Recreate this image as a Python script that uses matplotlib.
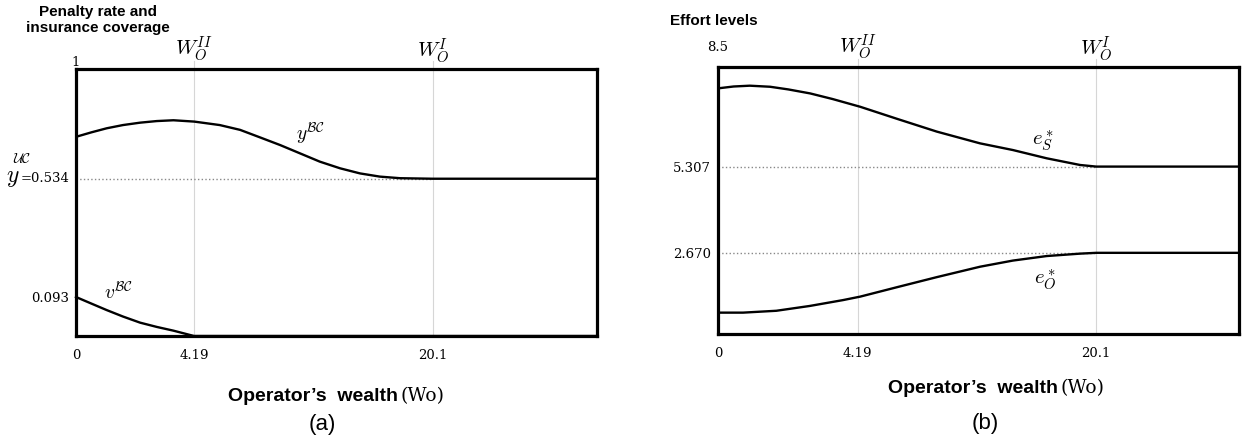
import matplotlib.pyplot as plt

# schematic axes: x runs 0..100 (the wealth axis is not to scale),
# y runs 0..1 of the box height; the printed values are only labels
X_TICKS_A = [0, 22.65, 68.5]
X_TICKS_B = [0, 26.8, 72.6]
X_LABELS = ['0', '4.19', '20.1']

# panel (a): insurance coverage y^BC and penalty rate v^BC
xa_y = [0, 3, 5.9, 9, 12.3, 15.5, 18.7, 22.7, 27.6, 31.5, 35.3, 39.2,
        43.0, 46.8, 50.7, 54.5, 58.3, 62.2, 68.5, 100]
y_bc = [0.746, 0.763, 0.778, 0.790, 0.799, 0.805, 0.808, 0.803, 0.790, 0.772,
        0.744, 0.715, 0.684, 0.653, 0.628, 0.609, 0.597, 0.591, 0.589, 0.589]
xa_v = [0, 3, 5.9, 9, 12.3, 15.5, 18.7, 22.65, 100]
v_bc = [0.146, 0.121, 0.097, 0.073, 0.050, 0.034, 0.020, 0.0, 0.0]
y_uc_level = 0.589

# panel (b): effort levels e_S* and e_O*
xb_s = [0, 3, 6.1, 10, 13.5, 17.7, 22, 27.3, 34.5, 42, 50.3, 56.6, 63.1, 69.5, 72.6, 100]
e_s = [0.920, 0.927, 0.930, 0.926, 0.916, 0.901, 0.880, 0.851, 0.805, 0.758,
       0.714, 0.689, 0.658, 0.633, 0.627, 0.627]
xb_o = [0, 4.8, 11.2, 17.6, 24, 27.3, 34.5, 42, 50.3, 56.6, 63.1, 69.5, 72.6, 100]
e_o = [0.080, 0.080, 0.087, 0.105, 0.127, 0.140, 0.176, 0.213, 0.252, 0.275,
       0.292, 0.301, 0.304, 0.304]
es_level = 0.627
eo_level = 0.304

plt.rcParams['mathtext.fontset'] = 'cm'
SERIF = 'DejaVu Serif'
SANS = 'Liberation Sans'
W, H = 1243, 448

fig = plt.figure(figsize=(W / 100, H / 100), dpi=100)
ax_a = fig.add_axes([76 / W, 1 - 336 / H, 521 / W, 267 / H])
ax_b = fig.add_axes([718 / W, 1 - 334 / H, 521 / W, 267 / H])


def base_axes(ax, xticks):
    ax.set_xlim(0, 100)
    ax.set_ylim(0, 1)
    for s in ax.spines.values():
        s.set_linewidth(2.3)
    ax.set_xticks(xticks)
    ax.set_xticklabels(X_LABELS, family=SERIF, fontsize=9.5)
    ax.tick_params(length=0)
    ax.tick_params(axis='x', pad=9)
    ax.tick_params(axis='y', pad=5)
    for xv in xticks[1:]:
        ax.axvline(xv, ymax=1.03, color='#d6d6d6', lw=0.8, clip_on=False, zorder=0)
    ax.annotate(r'$W_O^{II}$', (xticks[1], 1), xytext=(0, 14), textcoords='offset points',
                ha='center', va='center', fontsize=15, annotation_clip=False)
    ax.annotate(r'$W_O^{I}$', (xticks[2], 1), xytext=(0, 13), textcoords='offset points',
                ha='center', va='center', fontsize=15, annotation_clip=False)


# (a)
base_axes(ax_a, X_TICKS_A)
ax_a.plot([0, X_TICKS_A[2]], [y_uc_level] * 2, ls=':', color='#888888', lw=1)
ax_a.plot(xa_y, y_bc, color='black', lw=1.7)
ax_a.plot(xa_v, v_bc, color='black', lw=1.7, clip_on=False)
ax_a.set_yticks([v_bc[0]])
ax_a.set_yticklabels(['0.093'], family=SERIF, fontsize=9.5)
ax_a.text(45.1, 0.76, r'$y^{\mathcal{BC}}$', fontsize=14, ha='center', va='center')
ax_a.text(8.1, 0.165, r'$v^{\mathcal{BC}}$', fontsize=14, ha='center', va='center')
ax_a.annotate('1', (0, 1), xytext=(0, 5), textcoords='offset points', ha='center',
              va='center', family=SERIF, fontsize=9.5, annotation_clip=False)
fig.text(13 / W, 1 - 177 / H, r'$y$', fontsize=17, ha='center', va='center')
fig.text(22 / W, 1 - 159 / H, r'$\mathcal{UC}$', fontsize=10, ha='center', va='center')
fig.text(69 / W, 1 - 178 / H, '=0.534', family=SERIF, fontsize=9.5, ha='right', va='center')
fig.text(98 / W, 1 - 20 / H, 'Penalty rate and\ninsurance coverage', family=SANS,
         fontweight='bold', fontsize=11, ha='center', va='center', linespacing=1.2)

# (b)
base_axes(ax_b, X_TICKS_B)
ax_b.plot([0, X_TICKS_B[2]], [es_level] * 2, ls=':', color='#888888', lw=1)
ax_b.plot([0, X_TICKS_B[2]], [eo_level] * 2, ls=':', color='#888888', lw=1)
ax_b.plot(xb_s, e_s, color='black', lw=1.7)
ax_b.plot(xb_o, e_o, color='black', lw=1.7)
ax_b.set_yticks([eo_level, es_level])
ax_b.set_yticklabels(['2.670', '5.307'], family=SERIF, fontsize=9.5)
ax_b.text(62.4, 0.723, r'$e_S^*$', fontsize=15, ha='center', va='center')
ax_b.text(62.8, 0.202, r'$e_O^*$', fontsize=15, ha='center', va='center')
ax_b.annotate('8.5', (0, 1), xytext=(0, 14), textcoords='offset points', ha='center',
              va='center', family=SERIF, fontsize=9.5, annotation_clip=False)
fig.text(714 / W, 1 - 21 / H, 'Effort levels', family=SANS, fontweight='bold',
         fontsize=11, ha='center', va='center')

# x-axis titles and panel letters
for x_split, y_lab, x_letter, y_letter, letter in [(398, 396, 322, 424, '(a)'),
                                                   (1058, 388, 985, 423, '(b)')]:
    fig.text(x_split / W, 1 - y_lab / H, 'Operator\u2019s  wealth', family=SANS,
             fontweight='bold', fontsize=14, ha='right', va='center')
    fig.text((x_split + 3) / W, 1 - y_lab / H, '(Wo)', family=SERIF,
             fontsize=13.5, ha='left', va='center')
    fig.text(x_letter / W, 1 - y_letter / H, letter, family=SANS,
             fontsize=16, ha='center', va='center')

fig.savefig('out.png', dpi=100)
